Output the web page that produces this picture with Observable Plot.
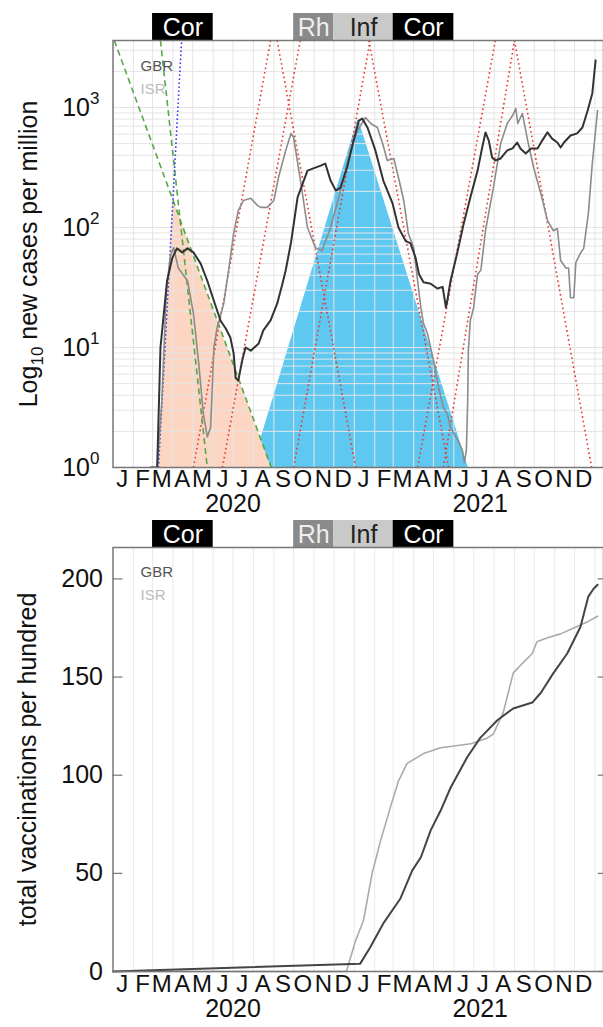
<!DOCTYPE html>
<html><head><meta charset="utf-8">
<script src="https://cdn.jsdelivr.net/npm/d3@7"></script>
<script src="https://cdn.jsdelivr.net/npm/@observablehq/plot@0.6"></script>
<style>
html,body{margin:0;padding:0;background:#fff;overflow:hidden}
#wrap{width:603px;padding-top:13px}
#wrap svg{display:block;overflow:visible}
</style></head><body><div id="wrap"></div>
<script>
// ---------- data ----------
const periods = [
  {start:"2020-03-01", end:"2020-06-01", label:"Cor", kind:"cor"},
  {start:"2020-10-01", end:"2020-12-01", label:"Rh",  kind:"rh"},
  {start:"2020-12-01", end:"2021-03-01", label:"Inf", kind:"inf"},
  {start:"2021-03-01", end:"2021-06-01", label:"Cor", kind:"cor"}
];
const monthLetters = ["J","F","M","A","M","J","J","A","S","O","N","D"];
const yearLabels = [["2020-07-01","2020"],["2021-07-11","2021"]];
const caseDecades = [0,1,2,3];
const vaxTicks = [0,50,100,150,200];
const countries = ["GBR","ISR"];

const gbrCases = [["2020-02-27",1],["2020-03-08",1],["2020-03-13",10],["2020-03-23",36],["2020-03-31",56],["2020-04-07",67],["2020-04-15",62],["2020-04-23",67],["2020-05-02",62],["2020-05-13",50],["2020-05-23",36],["2020-06-02",24.5],["2020-06-12",16.8],["2020-06-20",14.4],["2020-06-27",12.1],["2020-07-02",8.9],["2020-07-05",5.6],["2020-07-09",5.3],["2020-07-15",7.8],["2020-07-20",10],["2020-07-28",9.4],["2020-08-09",10.8],["2020-08-16",13.9],["2020-08-27",16.8],["2020-09-06",23.2],["2020-09-14",34],["2020-09-19",44],["2020-09-27",75],["2020-10-07",178],["2020-10-22",298],["2020-11-11",328],["2020-11-18",341],["2020-11-26",246],["2020-12-04",203],["2020-12-11",215],["2020-12-21",316],["2020-12-31",530],["2021-01-08",778],["2021-01-13",809],["2021-01-21",681],["2021-02-02",439],["2021-02-14",246],["2021-02-28",159],["2021-03-09",100],["2021-03-20",77],["2021-03-27",74],["2021-04-04",56],["2021-04-09",41],["2021-04-16",35],["2021-04-27",34],["2021-05-07",31],["2021-05-15",32],["2021-05-20",21.5],["2021-05-22",24.5],["2021-05-27",36],["2021-06-06",61],["2021-06-16",108],["2021-06-26",178],["2021-07-07",298],["2021-07-14",464],["2021-07-19",620],["2021-07-24",530],["2021-07-29",383],["2021-08-03",362],["2021-08-11",376],["2021-08-21",439],["2021-08-29",456],["2021-09-05",511],["2021-09-10",456],["2021-09-18",414],["2021-09-26",456],["2021-10-06",456],["2021-10-13",530],["2021-10-21",620],["2021-10-28",550],["2021-11-05",511],["2021-11-10",464],["2021-11-15",511],["2021-11-25",584],["2021-12-05",609],["2021-12-13",681],["2021-12-21",945],["2021-12-28",1310],["2022-01-02",2470]];

const isrCases = [["2020-02-27",1],["2020-03-08",1],["2020-03-15",3.6],["2020-03-22",30],["2020-03-28",58],["2020-04-02",68],["2020-04-09",46],["2020-04-23",36],["2020-05-02",19.2],["2020-05-10",7.4],["2020-05-17",2.8],["2020-05-23",1.8],["2020-05-28",2.15],["2020-05-31",5.3],["2020-06-02",10],["2020-06-07",14.7],["2020-06-17",23.2],["2020-06-27",56],["2020-07-02",89],["2020-07-09",138],["2020-07-17",168],["2020-07-28",175],["2020-08-07",153],["2020-08-12",147],["2020-08-22",147],["2020-09-01",168],["2020-09-08",261],["2020-09-19",439],["2020-09-27",609],["2020-10-01",562],["2020-10-12",233],["2020-10-22",100],["2020-11-03",68],["2020-11-13",64],["2020-11-26",100],["2020-12-06",159],["2020-12-16",261],["2020-12-26",439],["2021-01-06",644],["2021-01-18",825],["2021-01-26",735],["2021-02-05",681],["2021-02-13",501],["2021-02-20",362],["2021-03-02",376],["2021-03-09",261],["2021-03-17",168],["2021-03-24",89],["2021-04-01",68],["2021-04-07",36],["2021-04-12",21.5],["2021-04-16",15.8],["2021-04-22",13.1],["2021-05-01",7.8],["2021-05-09",4.6],["2021-05-16",3.16],["2021-05-22",2.8],["2021-05-27",2.15],["2021-06-07",1.68],["2021-06-14",1.39],["2021-06-17",1.1],["2021-06-20",1.39],["2021-06-22",3.6],["2021-06-23",9.4],["2021-06-26",16.8],["2021-07-01",21.5],["2021-07-07",41],["2021-07-12",44],["2021-07-19",94],["2021-07-31",215],["2021-08-11",501],["2021-08-21",735],["2021-08-29",857],["2021-09-03",980],["2021-09-06",735],["2021-09-10",825],["2021-09-13",890],["2021-09-21",530],["2021-09-30",316],["2021-10-11",191],["2021-10-21",114],["2021-10-30",94],["2021-11-05",98],["2021-11-10",53],["2021-11-18",46],["2021-11-22",46],["2021-11-25",26],["2021-11-30",26],["2021-12-03",51],["2021-12-10",61],["2021-12-15",67],["2021-12-22",131],["2021-12-28",341],["2022-01-05",945]];

// exponential fits: [date1, value1, date2, value2]
const fitBlue  = [["2020-03-10",1,"2020-04-14",3617]];
const fitGreen = [["2020-01-03",3617,"2020-08-28",1],["2020-03-13",3617,"2020-05-23",1]];
const fitRed = [
  ["2020-05-02",1,"2020-08-27",3617],
  ["2020-06-15",1,"2020-10-11",3617],
  ["2020-09-06",3617,"2021-01-03",1],
  ["2020-10-01",1,"2021-01-25",3617],
  ["2021-01-23",3617,"2021-05-24",1],
  ["2021-04-07",1,"2021-08-03",3617],
  ["2021-05-16",1,"2021-09-01",3617],
  ["2021-09-01",3617,"2021-12-27",1]
];
// shaded waves (triangles in log space)
const wave1 = [["2020-03-10",1],["2020-04-01",171],["2020-08-28",1]];
const wave2 = [["2020-07-30",1],["2021-01-07",809],["2021-06-23",1]];

const gbrVax = [["2020-01-01",0],["2021-01-10",4],["2021-01-25",12.2],["2021-02-14",24.5],["2021-03-12",37.2],["2021-03-30",51.5],["2021-04-12",58.2],["2021-04-27",72],["2021-05-12",82],["2021-05-27",93.6],["2021-06-21",109],["2021-07-11",119],["2021-08-06",128],["2021-08-30",134],["2021-09-28",137],["2021-10-11",142],["2021-10-30",152],["2021-11-20",162],["2021-12-10",175.5],["2021-12-22",191],["2021-12-30",195],["2022-01-05",197]];
const isrVax = [["2020-01-01",0],["2020-12-20",0],["2021-01-03",15.8],["2021-01-15",26],["2021-01-28",50],["2021-02-10",66.8],["2021-02-25",84],["2021-03-09",97],["2021-03-22",106],["2021-04-16",111],["2021-05-12",114],["2021-06-27",116],["2021-07-22",119],["2021-07-31",121],["2021-08-15",132],["2021-08-30",152],["2021-09-13",157],["2021-09-28",162],["2021-10-05",168],["2021-10-21",170],["2021-11-10",172],["2021-11-30",175],["2021-12-20",178],["2022-01-05",181]];

(function () {
// ---------- setup ----------
const parse = d3.utcParse("%Y-%m-%d");
const X_DOMAIN = [parse("2020-01-01"), parse("2022-01-14")];
const W = 603, ML = 112.5;
const FONT = "'Liberation Sans', Arial, Helvetica, sans-serif";
const boxFill = {cor:"#000000", rh:"#8a8a8a", inf:"#c9c9c9"};
const boxText = {cor:"#ffffff", rh:"#eeeeee", inf:"#222222"};
const gridColor = "#e4e4e4";
const monthStarts = d3.utcMonth.range(parse("2020-02-01"), parse("2022-01-02"));
const monthMids = d3.utcMonth.range(parse("2020-01-01"), parse("2022-01-01")).map(d => d3.utcDay.offset(d, 14));
const CASE_MAX = 3617;
const minorTicks = [];
for (let k = 0; k <= 3; k++) for (let m = 1; m <= 9; m++) { const v = m * 10 ** k; if (v <= CASE_MAX) minorTicks.push(v); }

const X = d => parse(d[0]);
const V = d => d[1];
const xOpt = {type:"utc", domain:X_DOMAIN, axis:null};
const wrap = document.getElementById("wrap");

function header() {
  return Plot.plot({
    width: W, height: 27, marginLeft: ML, marginRight: 0, marginTop: 0, marginBottom: 0,
    x: xOpt, color: {type:"identity"},
    style: {fontFamily: FONT, overflow: "visible", background: "transparent"},
    marks: [
      Plot.rect(periods, {x1: d => parse(d.start), x2: d => parse(d.end), fill: d => boxFill[d.kind]}),
      Plot.text(periods, {x: d => new Date((+parse(d.start) + +parse(d.end)) / 2), text: "label",
        fill: d => boxText[d.kind], fontSize: 25, frameAnchor: "middle", dy: 1})
    ]
  });
}

function monthAxis(dyM, dyY) {
  return [
    Plot.text(monthMids, {x: d => d, text: (d, i) => monthLetters[i % 12], frameAnchor: "bottom", dy: dyM, fontSize: 24, fill: "#111"}),
    Plot.text(yearLabels, {x: X, text: d => d[1], frameAnchor: "bottom", dy: dyY, fontSize: 25, fill: "#111"})
  ];
}

function legend(dy1, dy2) {
  return [
    Plot.text([countries[0]], {frameAnchor: "top-left", dx: 27.5, dy: dy1, textAnchor: "start", fontSize: 15, fill: "#555"}),
    Plot.text([countries[1]], {frameAnchor: "top-left", dx: 27.5, dy: dy2, textAnchor: "start", fontSize: 15, fill: "#bbb"})
  ];
}

// ---------- top panel ----------
wrap.appendChild(header());
const casesChart = Plot.plot({
  width: W, height: 480, marginLeft: ML, marginRight: 0, marginTop: 0, marginBottom: 53,
  x: xOpt,
  y: {type: "log", domain: [1, CASE_MAX], axis: null},
  style: {fontFamily: FONT, overflow: "visible", background: "transparent"},
  marks: [
    Plot.area(wave2, {x1: X, y1: () => 1, y2: V, fill: "#5ec8f1"}),
    Plot.area(wave1, {x1: X, y1: () => 1, y2: V, fill: "#fcd6c2"}),
    Plot.ruleX(monthStarts, {stroke: gridColor, strokeWidth: 1}),
    Plot.ruleY(minorTicks, {stroke: gridColor, strokeWidth: 1}),
    Plot.link(fitRed, {x1: d => parse(d[0]), y1: d => d[1], x2: d => parse(d[2]), y2: d => d[3], stroke: "#e8352e", strokeWidth: 1.6, strokeDasharray: "1.6,3", clip: true}),
    Plot.link(fitGreen, {x1: d => parse(d[0]), y1: d => d[1], x2: d => parse(d[2]), y2: d => d[3], stroke: "#55a844", strokeWidth: 1.6, strokeDasharray: "6,4", clip: true}),
    Plot.link(fitBlue, {x1: d => parse(d[0]), y1: d => d[1], x2: d => parse(d[2]), y2: d => d[3], stroke: "#3340ee", strokeWidth: 1.6, strokeDasharray: "1.6,2.4", clip: true}),
    Plot.line(isrCases, {x: X, y: V, stroke: "#8c8c8c", strokeWidth: 1.6, clip: true}),
    Plot.line(gbrCases, {x: X, y: V, stroke: "#333", strokeWidth: 2, clip: true}),
    Plot.frame({stroke: "#777", strokeWidth: 1.5}),
    Plot.text(caseDecades, {y: d => 10 ** d, text: () => "10", frameAnchor: "left", textAnchor: "end", dx: -23, fontSize: 25, fill: "#111"}),
    Plot.text(caseDecades, {y: d => 10 ** d, text: d => String(d), frameAnchor: "left", textAnchor: "start", dx: -23, dy: -9, fontSize: 17, fill: "#111"}),
    Plot.text(["Log10 new cases per million"], {frameAnchor: "left", textAnchor: "middle", dx: -84, rotate: -90, fontSize: 25, fill: "#111"}),
    ...legend(20, 43),
    ...monthAxis(19, 44)
  ]
});
wrap.appendChild(casesChart);
// subscript in the axis label
d3.select(casesChart).selectAll("text").filter(function() { return this.textContent === "Log10 new cases per million"; })
  .each(function() {
    const t = d3.select(this); t.text("");
    t.append("tspan").text("Log");
    t.append("tspan").attr("font-size", 17).attr("dy", 6).text("10");
    t.append("tspan").attr("dy", -6).text(" new cases per million");
  });

// ---------- bottom panel ----------
wrap.appendChild(header());
const vaxChart = Plot.plot({
  width: W, height: 480, marginLeft: ML, marginRight: 0, marginTop: 0, marginBottom: 56,
  x: xOpt,
  y: {domain: [0, 216], axis: null},
  style: {fontFamily: FONT, overflow: "visible", background: "transparent"},
  marks: [
    Plot.ruleX(monthStarts, {stroke: "#ebebeb", strokeWidth: 1}),
    Plot.ruleY(vaxTicks, {y: d => d, x1: () => X_DOMAIN[0], x2: () => d3.utcDay.offset(X_DOMAIN[0], 15), stroke: "#777", strokeWidth: 1.2}),
    Plot.ruleY(vaxTicks, {y: d => d, x1: () => d3.utcDay.offset(X_DOMAIN[1], -8), x2: () => X_DOMAIN[1], stroke: "#777", strokeWidth: 1.2}),
    Plot.line(isrVax, {x: X, y: V, stroke: "#aaa", strokeWidth: 1.6}),
    Plot.line(gbrVax, {x: X, y: V, stroke: "#444", strokeWidth: 2}),
    Plot.frame({stroke: "#777", strokeWidth: 1.5}),
    Plot.text(vaxTicks, {y: d => d, text: d => String(d), frameAnchor: "left", textAnchor: "end", dx: -10, fontSize: 25, fill: "#111"}),
    Plot.text(["total vaccinations per hundred"], {frameAnchor: "left", textAnchor: "middle", dx: -85, rotate: -90, fontSize: 25, fill: "#111"}),
    ...legend(19, 42),
    ...monthAxis(20, 45)
  ]
});
wrap.appendChild(vaxChart);
})();
</script></body></html>
